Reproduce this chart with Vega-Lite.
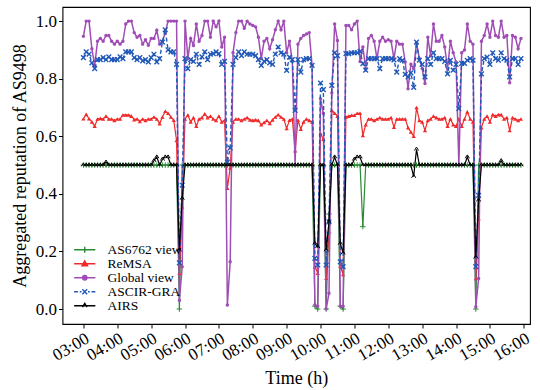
{
"$schema":"https://vega.github.io/schema/vega-lite/v6.json",
"width":467.5,"height":317,
"autosize":{"type":"none"},
"padding":{"left":62.5,"top":7,"right":10,"bottom":66},
"background":"white",
"config":{
 "font":"Liberation Serif",
 "view":{"stroke":"black","strokeWidth":1.1},
 "axis":{"grid":false,"domain":false,"tickColor":"black","tickSize":4,"tickWidth":1,"labelColor":"black","titleColor":"black","labelFont":"Liberation Serif","titleFont":"Liberation Serif","labelFontSize":17,"titleFontSize":18,"titleFontWeight":"normal","labelPadding":2,"labelOverlap":false}
},
"data":{"values":[
{"t":180,"a":0.5,"r":0.661,"g":0.947,"c":0.873,"k":0.5},
{"t":185,"a":0.5,"r":0.676,"g":1.0,"c":0.893,"k":0.5},
{"t":190,"a":0.5,"r":0.661,"g":1.0,"c":0.885,"k":0.5},
{"t":195,"a":0.5,"r":0.65,"g":0.904,"c":0.855,"k":0.5},
{"t":200,"a":0.5,"r":0.635,"g":0.846,"c":0.835,"k":0.5},
{"t":205,"a":0.5,"r":0.66,"g":0.93,"c":0.866,"k":0.5},
{"t":210,"a":0.5,"r":0.662,"g":0.94,"c":0.866,"k":0.5},
{"t":215,"a":0.5,"r":0.66,"g":0.93,"c":0.873,"k":0.5},
{"t":220,"a":0.5,"r":0.67,"g":0.95,"c":0.866,"k":0.51},
{"t":225,"a":0.5,"r":0.66,"g":0.95,"c":0.876,"k":0.5},
{"t":230,"a":0.5,"r":0.66,"g":0.93,"c":0.866,"k":0.5},
{"t":235,"a":0.5,"r":0.655,"g":0.92,"c":0.866,"k":0.5},
{"t":240,"a":0.5,"r":0.66,"g":0.93,"c":0.866,"k":0.5},
{"t":245,"a":0.5,"r":0.66,"g":0.92,"c":0.876,"k":0.5},
{"t":250,"a":0.5,"r":0.674,"g":0.93,"c":0.87,"k":0.5},
{"t":255,"a":0.5,"r":0.674,"g":0.99,"c":0.893,"k":0.5},
{"t":260,"a":0.5,"r":0.674,"g":1.0,"c":0.893,"k":0.5},
{"t":265,"a":0.5,"r":0.67,"g":1.0,"c":0.893,"k":0.5},
{"t":270,"a":0.5,"r":0.658,"g":0.96,"c":0.873,"k":0.5},
{"t":275,"a":0.5,"r":0.66,"g":0.944,"c":0.866,"k":0.5},
{"t":280,"a":0.5,"r":0.652,"g":0.95,"c":0.873,"k":0.5},
{"t":285,"a":0.5,"r":0.66,"g":0.92,"c":0.862,"k":0.5},
{"t":290,"a":0.5,"r":0.655,"g":0.935,"c":0.866,"k":0.5},
{"t":295,"a":0.5,"r":0.66,"g":0.916,"c":0.858,"k":0.5},
{"t":300,"a":0.5,"r":0.66,"g":0.94,"c":0.873,"k":0.5},
{"t":305,"a":0.5,"r":0.667,"g":0.94,"c":0.885,"k":0.515},
{"t":310,"a":0.5,"r":0.66,"g":0.968,"c":0.858,"k":0.528},
{"t":315,"a":0.5,"r":0.644,"g":0.92,"c":0.87,"k":0.5},
{"t":320,"a":0.5,"r":0.667,"g":0.93,"c":0.927,"k":0.52},
{"t":325,"a":0.5,"r":0.687,"g":0.96,"c":0.97,"k":0.528},
{"t":330,"a":0.5,"r":0.68,"g":1.0,"c":0.9,"k":0.528},
{"t":335,"a":0.5,"r":0.667,"g":1.0,"c":0.893,"k":0.5},
{"t":340,"a":0.5,"r":0.656,"g":1.0,"c":0.893,"k":0.5},
{"t":345,"a":0.5,"r":0.586,"g":1.0,"c":0.85,"k":0.5},
{"t":350,"a":0.0,"r":0.125,"g":0.03,"c":0.16,"k":0.205},
{"t":355,"a":0.5,"r":0.355,"g":0.147,"c":0.43,"k":0.384},
{"t":360,"a":0.5,"r":0.66,"g":1.0,"c":0.87,"k":0.5},
{"t":365,"a":0.5,"r":0.674,"g":0.87,"c":0.835,"k":0.5},
{"t":370,"a":0.5,"r":0.65,"g":0.94,"c":0.866,"k":0.5},
{"t":375,"a":0.5,"r":0.665,"g":0.915,"c":0.86,"k":0.5},
{"t":380,"a":0.5,"r":0.635,"g":0.99,"c":0.885,"k":0.5},
{"t":385,"a":0.5,"r":0.66,"g":0.93,"c":0.85,"k":0.5},
{"t":390,"a":0.5,"r":0.665,"g":0.95,"c":0.876,"k":0.5},
{"t":395,"a":0.5,"r":0.678,"g":1.0,"c":0.893,"k":0.5},
{"t":400,"a":0.5,"r":0.665,"g":1.0,"c":0.866,"k":0.5},
{"t":405,"a":0.5,"r":0.67,"g":0.944,"c":0.885,"k":0.5},
{"t":410,"a":0.5,"r":0.66,"g":1.0,"c":0.887,"k":0.5},
{"t":415,"a":0.5,"r":0.655,"g":0.98,"c":0.893,"k":0.5},
{"t":420,"a":0.5,"r":0.67,"g":1.0,"c":0.887,"k":0.5},
{"t":425,"a":0.5,"r":0.65,"g":0.91,"c":0.85,"k":0.5},
{"t":430,"a":0.5,"r":0.655,"g":0.944,"c":0.86,"k":0.5},
{"t":435,"a":0.5,"r":0.42,"g":0.014,"c":0.51,"k":0.5},
{"t":440,"a":0.5,"r":0.49,"g":0.164,"c":0.56,"k":0.5},
{"t":445,"a":0.5,"r":0.65,"g":0.89,"c":0.85,"k":0.5},
{"t":450,"a":0.5,"r":0.66,"g":0.96,"c":0.873,"k":0.5},
{"t":455,"a":0.5,"r":0.66,"g":1.0,"c":0.893,"k":0.5},
{"t":460,"a":0.5,"r":0.655,"g":1.0,"c":0.88,"k":0.5},
{"t":465,"a":0.5,"r":0.66,"g":0.975,"c":0.893,"k":0.5},
{"t":470,"a":0.5,"r":0.665,"g":1.0,"c":0.885,"k":0.5},
{"t":475,"a":0.5,"r":0.657,"g":0.99,"c":0.885,"k":0.5},
{"t":480,"a":0.5,"r":0.655,"g":0.985,"c":0.885,"k":0.5},
{"t":485,"a":0.5,"r":0.657,"g":0.98,"c":0.88,"k":0.5},
{"t":490,"a":0.5,"r":0.655,"g":0.944,"c":0.866,"k":0.5},
{"t":495,"a":0.5,"r":0.64,"g":0.87,"c":0.846,"k":0.5},
{"t":500,"a":0.5,"r":0.648,"g":0.93,"c":0.86,"k":0.5},
{"t":505,"a":0.5,"r":0.655,"g":0.94,"c":0.866,"k":0.5},
{"t":510,"a":0.5,"r":0.645,"g":0.904,"c":0.855,"k":0.5},
{"t":515,"a":0.5,"r":0.657,"g":0.935,"c":0.85,"k":0.5},
{"t":520,"a":0.5,"r":0.667,"g":0.97,"c":0.885,"k":0.5},
{"t":525,"a":0.5,"r":0.675,"g":1.0,"c":0.91,"k":0.5},
{"t":530,"a":0.5,"r":0.667,"g":0.97,"c":0.89,"k":0.5},
{"t":535,"a":0.5,"r":0.66,"g":1.0,"c":0.885,"k":0.5},
{"t":540,"a":0.5,"r":0.627,"g":0.89,"c":0.829,"k":0.5},
{"t":545,"a":0.5,"r":0.656,"g":0.93,"c":0.875,"k":0.5},
{"t":550,"a":0.5,"r":0.66,"g":0.86,"c":0.866,"k":0.5},
{"t":555,"a":0.5,"r":0.55,"g":0.5,"c":0.69,"k":0.5},
{"t":560,"a":0.5,"r":0.656,"g":0.92,"c":0.866,"k":0.5},
{"t":565,"a":0.5,"r":0.625,"g":0.94,"c":0.823,"k":0.5},
{"t":570,"a":0.5,"r":0.65,"g":0.95,"c":0.866,"k":0.5},
{"t":575,"a":0.5,"r":0.66,"g":0.955,"c":0.87,"k":0.5},
{"t":580,"a":0.5,"r":0.655,"g":0.96,"c":0.87,"k":0.5},
{"t":585,"a":0.5,"r":0.65,"g":0.846,"c":0.846,"k":0.5},
{"t":590,"a":0.01,"r":0.147,"g":0.014,"c":0.176,"k":0.228},
{"t":595,"a":0.0,"r":0.125,"g":0.01,"c":0.153,"k":0.216},
{"t":600,"a":0.5,"r":0.61,"g":0.73,"c":0.785,"k":0.5},
{"t":605,"a":0.5,"r":0.59,"g":0.68,"c":0.762,"k":0.5},
{"t":610,"a":0.0,"r":0.107,"g":0.0,"c":0.153,"k":0.205},
{"t":615,"a":0.33,"r":0.27,"g":0.055,"c":0.303,"k":0.303},
{"t":620,"a":0.5,"r":0.69,"g":0.75,"c":0.777,"k":0.5},
{"t":625,"a":0.5,"r":0.68,"g":0.99,"c":0.89,"k":0.528},
{"t":630,"a":0.5,"r":0.67,"g":0.933,"c":0.88,"k":0.5},
{"t":635,"a":0.01,"r":0.15,"g":0.01,"c":0.164,"k":0.228},
{"t":640,"a":0.0,"r":0.12,"g":0.01,"c":0.147,"k":0.194},
{"t":645,"a":0.5,"r":0.667,"g":0.985,"c":0.887,"k":0.5},
{"t":650,"a":0.5,"r":0.67,"g":0.985,"c":0.887,"k":0.5},
{"t":655,"a":0.5,"r":0.673,"g":0.97,"c":0.89,"k":0.5},
{"t":660,"a":0.5,"r":0.673,"g":0.99,"c":0.89,"k":0.52},
{"t":665,"a":0.5,"r":0.68,"g":1.0,"c":0.89,"k":0.528},
{"t":670,"a":0.5,"r":0.68,"g":0.86,"c":0.895,"k":0.528},
{"t":675,"a":0.286,"r":0.603,"g":0.91,"c":0.852,"k":0.5},
{"t":680,"a":0.5,"r":0.64,"g":0.835,"c":0.83,"k":0.5},
{"t":685,"a":0.5,"r":0.66,"g":0.94,"c":0.87,"k":0.5},
{"t":690,"a":0.5,"r":0.66,"g":0.95,"c":0.87,"k":0.5},
{"t":695,"a":0.5,"r":0.655,"g":0.93,"c":0.87,"k":0.5},
{"t":700,"a":0.5,"r":0.66,"g":0.87,"c":0.87,"k":0.5},
{"t":705,"a":0.5,"r":0.665,"g":0.93,"c":0.835,"k":0.5},
{"t":710,"a":0.5,"r":0.66,"g":0.944,"c":0.87,"k":0.5},
{"t":715,"a":0.5,"r":0.66,"g":0.93,"c":0.87,"k":0.5},
{"t":720,"a":0.5,"r":0.66,"g":0.935,"c":0.87,"k":0.5},
{"t":725,"a":0.5,"r":0.665,"g":0.93,"c":0.87,"k":0.5},
{"t":730,"a":0.5,"r":0.632,"g":0.87,"c":0.865,"k":0.5},
{"t":735,"a":0.5,"r":0.66,"g":0.93,"c":0.823,"k":0.5},
{"t":740,"a":0.5,"r":0.66,"g":0.92,"c":0.87,"k":0.5},
{"t":745,"a":0.5,"r":0.66,"g":0.92,"c":0.864,"k":0.5},
{"t":750,"a":0.5,"r":0.66,"g":0.858,"c":0.815,"k":0.5},
{"t":755,"a":0.5,"r":0.63,"g":0.765,"c":0.806,"k":0.5},
{"t":760,"a":0.5,"r":0.615,"g":0.85,"c":0.82,"k":0.5},
{"t":765,"a":0.5,"r":0.6,"g":0.835,"c":0.77,"k":0.46},
{"t":770,"a":0.5,"r":0.7,"g":0.925,"c":0.927,"k":0.555},
{"t":775,"a":0.5,"r":0.655,"g":0.87,"c":0.864,"k":0.5},
{"t":780,"a":0.5,"r":0.65,"g":0.835,"c":0.85,"k":0.5},
{"t":785,"a":0.5,"r":0.62,"g":0.783,"c":0.806,"k":0.5},
{"t":790,"a":0.5,"r":0.655,"g":0.944,"c":0.87,"k":0.5},
{"t":795,"a":0.5,"r":0.66,"g":0.88,"c":0.85,"k":0.5},
{"t":800,"a":0.5,"r":0.67,"g":0.99,"c":0.89,"k":0.5},
{"t":805,"a":0.5,"r":0.665,"g":0.93,"c":0.87,"k":0.5},
{"t":810,"a":0.5,"r":0.66,"g":0.93,"c":0.87,"k":0.5},
{"t":815,"a":0.5,"r":0.66,"g":0.95,"c":0.87,"k":0.5},
{"t":820,"a":0.5,"r":0.665,"g":0.91,"c":0.86,"k":0.5},
{"t":825,"a":0.5,"r":0.635,"g":0.835,"c":0.817,"k":0.5},
{"t":830,"a":0.5,"r":0.66,"g":0.93,"c":0.864,"k":0.5},
{"t":835,"a":0.5,"r":0.64,"g":0.89,"c":0.83,"k":0.5},
{"t":840,"a":0.5,"r":0.635,"g":0.858,"c":0.85,"k":0.5},
{"t":845,"a":0.5,"r":0.66,"g":0.5,"c":0.696,"k":0.5},
{"t":850,"a":0.5,"r":0.635,"g":0.89,"c":0.853,"k":0.5},
{"t":855,"a":0.5,"r":0.66,"g":0.9,"c":0.853,"k":0.5},
{"t":860,"a":0.5,"r":0.685,"g":0.99,"c":0.864,"k":0.528},
{"t":865,"a":0.5,"r":0.66,"g":0.93,"c":0.87,"k":0.5},
{"t":870,"a":0.5,"r":0.65,"g":0.92,"c":0.864,"k":0.5},
{"t":875,"a":0.0,"r":0.106,"g":0.008,"c":0.147,"k":0.18},
{"t":880,"a":0.5,"r":0.315,"g":0.106,"c":0.395,"k":0.378},
{"t":885,"a":0.5,"r":0.63,"g":0.93,"c":0.817,"k":0.5},
{"t":890,"a":0.5,"r":0.66,"g":0.95,"c":0.87,"k":0.5},
{"t":895,"a":0.5,"r":0.67,"g":0.99,"c":0.875,"k":0.5},
{"t":900,"a":0.5,"r":0.65,"g":0.944,"c":0.85,"k":0.5},
{"t":905,"a":0.5,"r":0.675,"g":1.0,"c":0.89,"k":0.5},
{"t":910,"a":0.5,"r":0.67,"g":0.95,"c":0.87,"k":0.5},
{"t":915,"a":0.5,"r":0.675,"g":0.944,"c":0.864,"k":0.5},
{"t":920,"a":0.5,"r":0.675,"g":1.0,"c":0.89,"k":0.515},
{"t":925,"a":0.5,"r":0.66,"g":0.944,"c":0.87,"k":0.5},
{"t":930,"a":0.5,"r":0.665,"g":0.95,"c":0.864,"k":0.5},
{"t":935,"a":0.5,"r":0.62,"g":0.786,"c":0.806,"k":0.5},
{"t":940,"a":0.5,"r":0.665,"g":0.95,"c":0.87,"k":0.5},
{"t":945,"a":0.5,"r":0.66,"g":0.944,"c":0.87,"k":0.5},
{"t":950,"a":0.5,"r":0.655,"g":0.904,"c":0.85,"k":0.5},
{"t":955,"a":0.5,"r":0.66,"g":0.94,"c":0.87,"k":0.5}
]},
"encoding":{
 "x":{"field":"t","type":"quantitative","title":"Time (h)",
  "scale":{"domain":[143,971],"nice":false,"zero":false},
  "axis":{"values":[180,240,300,360,420,480,540,600,660,720,780,840,900,960],
   "labelExpr":"(datum.value < 600 ? '0' : '') + floor(datum.value/60) + ':00'",
   "labelAngle":-30,"labelAlign":"right","labelBaseline":"top","labelOverlap":false,"labelFont":"Liberation Serif","labelFontSize":17,"titlePadding":6}}
},
"layer":[
 {"mark":{"type":"line","strokeWidth":1.2},
  "encoding":{
   "y":{"field":"a","type":"quantitative","title":"Aggregated reputation of AS9498","scale":{"domain":[-0.052,1.049],"nice":false,"zero":false},"axis":{"values":[0,0.2,0.4,0.6,0.8,1],"format":".1f","titlePadding":6,"labelFont":"Liberation Serif","labelFontSize":17}},
   "color":{"datum":"AS6762 view","scale":{"domain":["AS6762 view","ReMSA","Global view","ASCIR-GRA","AIRS"],"range":["#2a8a34","#f02a2a","#a04db5","#2058b8","#000000"]},
    "legend":{"title":null,"orient":"none","legendX":15.5,"legendY":236,"padding":0,"labelFont":"Liberation Serif","labelFontSize":13.5,"labelColor":"black","symbolSize":64,"symbolStrokeWidth":1.4,"rowPadding":-1.3,"labelOffset":16,
     "encode":{"symbols":{"update":{
      "shape":{"signal":"datum.value === 'AS6762 view' ? 'M-2.65,0H2.65M0,-0.75V0.75' : datum.value === 'ReMSA' ? 'M-2.65,0H2.65M-0.7,0.5L0.7,0.5L0,-0.7Z' : datum.value === 'Global view' ? 'M-2.65,0H2.65M-0.55,0A0.55,0.55,0,1,0,0.55,0A0.55,0.55,0,1,0,-0.55,0Z' : datum.value === 'ASCIR-GRA' ? 'M-2.65,0H-1.7M-1.25,0H-0.8M0.8,0H1.25M1.7,0H2.65M-0.6,-0.6L0.6,0.6M-0.6,0.6L0.6,-0.6' : 'M-2.65,0H2.65M-0.55,0.35L0,-0.6L0.55,0.35'"},
      "fill":{"signal":"(datum.value === 'ReMSA' || datum.value === 'Global view') ? scale('color', datum.value) : 'transparent'"}
     }}}}}
  }},
 {"mark":{"type":"point","shape":"M-1,0H1M0,-1V1","size":30,"filled":false,"color":"#2a8a34","strokeWidth":1,"opacity":1},
  "encoding":{"y":{"field":"a","type":"quantitative","title":"Aggregated reputation of AS9498","scale":{"domain":[-0.052,1.049],"nice":false,"zero":false},"axis":{"values":[0,0.2,0.4,0.6,0.8,1],"format":".1f","titlePadding":6,"labelFont":"Liberation Serif","labelFontSize":17}}}},
 {"mark":{"type":"line","strokeWidth":1.2},
  "encoding":{"y":{"field":"r","type":"quantitative","title":"Aggregated reputation of AS9498","scale":{"domain":[-0.052,1.049],"nice":false,"zero":false},"axis":{"values":[0,0.2,0.4,0.6,0.8,1],"format":".1f","titlePadding":6,"labelFont":"Liberation Serif","labelFontSize":17}},
   "color":{"datum":"ReMSA"}}},
 {"mark":{"type":"point","shape":"triangle-up","size":18,"filled":true,"color":"#f02a2a","opacity":1},
  "encoding":{"y":{"field":"r","type":"quantitative","title":"Aggregated reputation of AS9498","scale":{"domain":[-0.052,1.049],"nice":false,"zero":false},"axis":{"values":[0,0.2,0.4,0.6,0.8,1],"format":".1f","titlePadding":6,"labelFont":"Liberation Serif","labelFontSize":17}}}},
 {"mark":{"type":"line","strokeWidth":1.5},
  "encoding":{"y":{"field":"g","type":"quantitative","title":"Aggregated reputation of AS9498","scale":{"domain":[-0.052,1.049],"nice":false,"zero":false},"axis":{"values":[0,0.2,0.4,0.6,0.8,1],"format":".1f","titlePadding":6,"labelFont":"Liberation Serif","labelFontSize":17}},
   "color":{"datum":"Global view"}}},
 {"mark":{"type":"point","shape":"circle","size":12,"filled":true,"color":"#a04db5","opacity":1},
  "encoding":{"y":{"field":"g","type":"quantitative","title":"Aggregated reputation of AS9498","scale":{"domain":[-0.052,1.049],"nice":false,"zero":false},"axis":{"values":[0,0.2,0.4,0.6,0.8,1],"format":".1f","titlePadding":6,"labelFont":"Liberation Serif","labelFontSize":17}}}},
 {"mark":{"type":"line","strokeWidth":1.4,"strokeDash":[4,2.5]},
  "encoding":{"y":{"field":"c","type":"quantitative","title":"Aggregated reputation of AS9498","scale":{"domain":[-0.052,1.049],"nice":false,"zero":false},"axis":{"values":[0,0.2,0.4,0.6,0.8,1],"format":".1f","titlePadding":6,"labelFont":"Liberation Serif","labelFontSize":17}},
   "color":{"datum":"ASCIR-GRA"}}},
 {"mark":{"type":"point","shape":"M-1,-1L1,1M-1,1L1,-1","size":22,"filled":false,"color":"#2058b8","strokeWidth":1.4,"opacity":1},
  "encoding":{"y":{"field":"c","type":"quantitative","title":"Aggregated reputation of AS9498","scale":{"domain":[-0.052,1.049],"nice":false,"zero":false},"axis":{"values":[0,0.2,0.4,0.6,0.8,1],"format":".1f","titlePadding":6,"labelFont":"Liberation Serif","labelFontSize":17}}}},
 {"mark":{"type":"line","strokeWidth":1.2},
  "encoding":{"y":{"field":"k","type":"quantitative","title":"Aggregated reputation of AS9498","scale":{"domain":[-0.052,1.049],"nice":false,"zero":false},"axis":{"values":[0,0.2,0.4,0.6,0.8,1],"format":".1f","titlePadding":6,"labelFont":"Liberation Serif","labelFontSize":17}},
   "color":{"datum":"AIRS"}}},
 {"mark":{"type":"point","shape":"M-1,0.6L0,-1L1,0.6","size":18,"filled":false,"color":"#000000","strokeWidth":1,"opacity":1},
  "encoding":{"y":{"field":"k","type":"quantitative","title":"Aggregated reputation of AS9498","scale":{"domain":[-0.052,1.049],"nice":false,"zero":false},"axis":{"values":[0,0.2,0.4,0.6,0.8,1],"format":".1f","titlePadding":6,"labelFont":"Liberation Serif","labelFontSize":17}}}}
]
}
